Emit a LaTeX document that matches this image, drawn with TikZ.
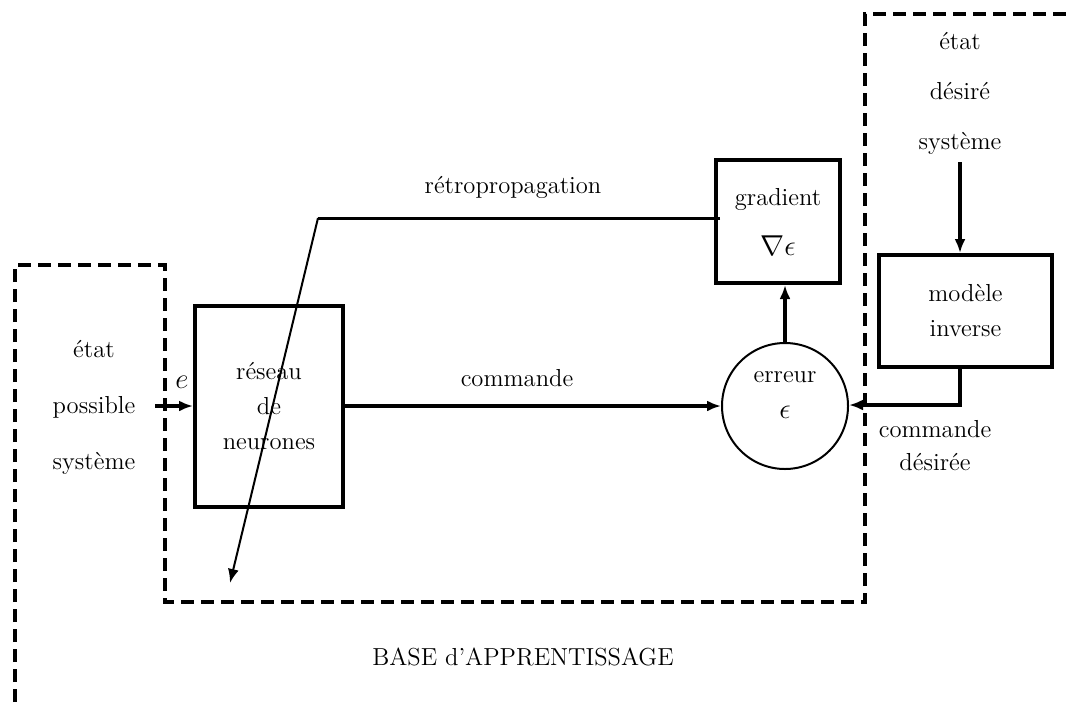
\documentclass[tikz,border=0pt]{standalone}
\usetikzlibrary{arrows.meta}
\begin{document}
\begin{tikzpicture}[x=0.5pt,y=-0.5pt,
  every node/.style={font=\fontsize{12.3}{17.5}\selectfont},
  blk/.style={draw,line width=2pt,align=center,inner sep=0pt},
  lbl/.style={align=center,inner sep=0pt},
  dsh/.style={line width=2pt,dash pattern=on 6.5pt off 3.5pt},
  thk/.style={line width=2pt},
  arr/.style={-{Latex[length=7pt,width=5.5pt]}}
]
\useasboundingbox (0,0) rectangle (1070,702);
% dashed boundary
\draw[dsh] (15,702) -- (15,265) -- (165,265) -- (165,602) -- (865,602) -- (865,14) -- (1070,14);
% blocks
\node[blk,minimum width=74pt,minimum height=100.5pt] (res) at (269,406.5) {réseau\\de\\neurones};
\node[blk,minimum width=62pt,minimum height=61.5pt,font=\fontsize{12.3}{25}\selectfont] (grad) at (778,221.5) {gradient\\{\Large$\nabla\epsilon$}};
\node[blk,minimum width=86.5pt,minimum height=56pt] (mod) at (965.5,311) {modèle\\inverse};
\node[draw,circle,line width=1pt,minimum size=63pt,inner sep=0pt] (err) at (785,406) {};
\node[lbl,font=\fontsize{12.3}{18}\selectfont] (errt) at (785,395) {erreur\\{\Large$\epsilon$}};
% labels
\node[lbl,font=\fontsize{12.3}{28}\selectfont] (ent) at (94,407) {état\\possible\\système};
\node[lbl,font=\fontsize{12.3}{25}\selectfont] (des) at (960,93) {état\\désiré\\système};
\node[lbl,font=\fontsize{12.3}{16.5}\selectfont] (cdes) at (935,446) {commande\\désirée};
\node[lbl] (retro) at (513,187) {rétropropagation};
\node[lbl] (cmd) at (517,378) {commande};
\node[lbl] (elab) at (182,382) {\Large$e$};
\node[lbl] (base) at (523,657) {BASE d'APPRENTISSAGE};
% coordinates
\coordinate (ein) at (155,406);
\coordinate (top) at (960,162);
\coordinate (bend) at (318,218);
\coordinate (rstart) at (720,218);
\coordinate (rend) at (230,583);
\coordinate (mcorner) at (960,405);
\coordinate (up) at (785,343);
% connectors
\draw[thk,arr] (ein) -- (res.west |- ein);
\draw[thk,arr] (res.east |- err) -- (err.west);
\draw[thk,arr] (up) -- (up |- grad.south);
\draw[thk,arr] (top) -- (top |- mod.north);
\draw[thk,arr] (mod.south -| mcorner) -- (mcorner) -- (err.east |- mcorner);
\draw[line width=1.5pt] (rstart) -- (bend);
\draw[line width=1pt,arr] (bend) -- (rend);
\end{tikzpicture}
\end{document}
